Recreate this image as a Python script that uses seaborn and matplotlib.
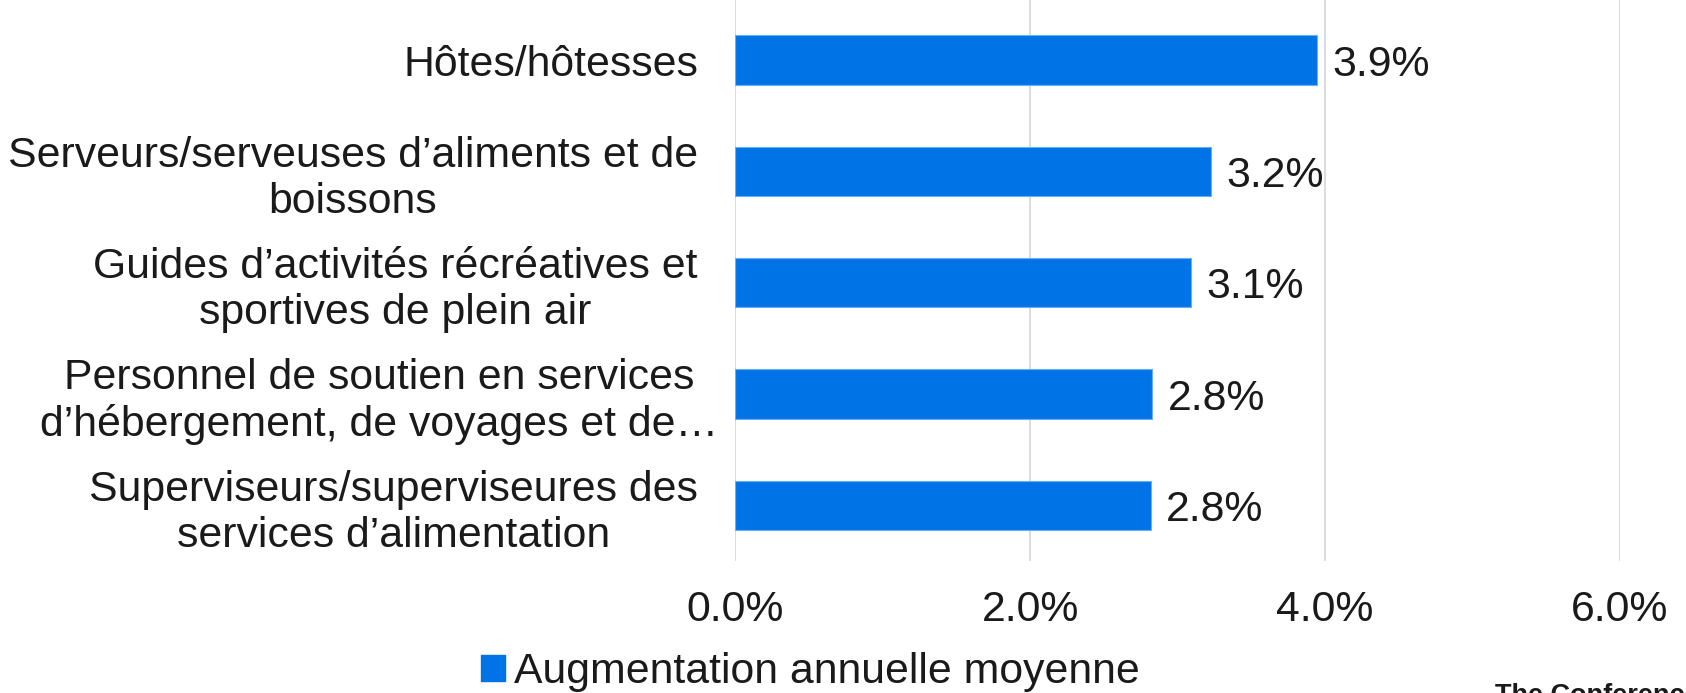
import matplotlib
matplotlib.use("Agg")
import matplotlib.pyplot as plt
from matplotlib.patches import Patch
from matplotlib.transforms import ScaledTranslation
import seaborn as sns
import pandas as pd

categories = [
    "Hôtes/hôtesses",
    "Serveurs/serveuses d’aliments et de\nboissons",
    "Guides d’activités récréatives et\nsportives de plein air",
    "Personnel de soutien en services\nd’hébergement, de voyages et de…",
    "Superviseurs/superviseures des\nservices d’alimentation",
]
values = [3.95, 3.23, 3.09, 2.83, 2.82]
value_labels = ["3.9%", "3.2%", "3.1%", "2.8%", "2.8%"]
series_name = "Augmentation annuelle moyenne"
x_ticks = [0, 2, 4, 6]
x_ticklabels = ["0.0%", "2.0%", "4.0%", "6.0%"]

BLUE = "#0074E6"
TEXT = "#1a1a1a"
GRID = "#d9d9d9"
FS = 30.8

sns.set_theme(style="white")
plt.rcParams["font.family"] = ["Liberation Sans", "DejaVu Sans"]

df = pd.DataFrame({"cat": categories, "val": values})

fig = plt.figure(figsize=(16.86, 6.93), dpi=100)
ax = fig.add_axes([0.4362, 0.1905, 0.5244, 0.8095])

sns.barplot(data=df, x="val", y="cat", color=BLUE, width=0.445,
            edgecolor="#6aaef2", linewidth=0.8, saturation=1, ax=ax)

ax.set_xlim(0, 6)
ax.set_ylim(4.5, -0.54)
ax.set_xticks(x_ticks)
ax.set_xticklabels(x_ticklabels, fontsize=FS, color=TEXT)
ax.set_yticks(range(len(categories)))
ax.set_yticklabels(categories, fontsize=FS, color=TEXT, multialignment="center")
ax.tick_params(axis="x", length=0, pad=21)
ax.tick_params(axis="y", length=0, pad=27)
ax.set_xlabel("")
ax.set_ylabel("")
for s in ax.spines.values():
    s.set_visible(False)
ax.grid(axis="x", color=GRID, linewidth=1.3)
ax.grid(axis="y", visible=False)
ax.set_axisbelow(True)

# the long 4th label overflows to the right in the original
lab = ax.get_yticklabels()[3]
lab.set_transform(lab.get_transform() + ScaledTranslation(0.2, 0, fig.dpi_scale_trans))

texts = ax.bar_label(ax.containers[0], labels=value_labels, padding=11,
                     fontsize=FS, color=TEXT)
for t in texts:
    t.set_verticalalignment("center_baseline")

fig.legend(handles=[Patch(facecolor=BLUE, edgecolor=BLUE)], labels=[series_name],
           loc="center left", bbox_to_anchor=(0.2853, 0.030), frameon=False,
           fontsize=FS, handlelength=0.57, handleheight=0.57, handletextpad=0.2,
           borderpad=0, borderaxespad=0, labelcolor=TEXT)

fig.text(1495 / 1686, 1 - 683 / 693, "The Conference Board of Canada",
         fontsize=19.5, fontweight="bold", color=TEXT, va="top", ha="left")

fig.savefig("out.png", dpi=100)
